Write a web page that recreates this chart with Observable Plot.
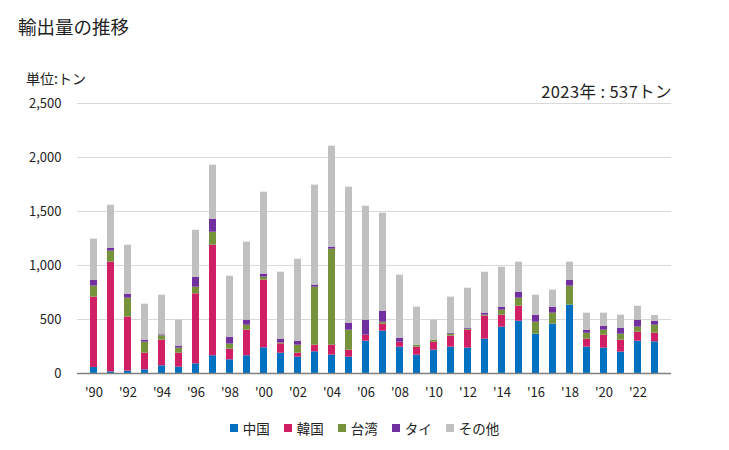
<!DOCTYPE html>
<html>
<head>
<meta charset="utf-8">
<script src="https://cdn.jsdelivr.net/npm/d3@7"></script>
<script src="https://cdn.jsdelivr.net/npm/@observablehq/plot@0.6"></script>
<style>
  body { margin: 0; background: #fff; font-family: "Noto Sans CJK JP", "Noto Sans", sans-serif; color: #222; }
  #wrap { position: relative; width: 729px; height: 450px; overflow: hidden; }
  #chart { position: absolute; left: 0; top: 0; }
  .t { position: absolute; white-space: nowrap; line-height: 1; }
  #legend { position: absolute; top: 418px; left: 0; width: 729px; display: flex; justify-content: center; font-size: 13.5px; }
  .li { display: flex; align-items: center; margin: 0 7px; }
  .sw { width: 8px; height: 8px; margin-right: 5px; }
</style>
</head>
<body>
<div id="wrap">
  <div id="chart"></div>
  <div class="t" style="left:18px; top:17px; font-size:18.5px;">輸出量の推移</div>
  <div class="t" style="left:26px; top:71px; font-size:14px;">単位:トン</div>
  <div class="t" style="right:57px; top:83px; font-size:16.5px; letter-spacing:0.4px;">2023年 : 537トン</div>
  <div id="legend"></div>
</div>
<script>
const years = d3.range(1990, 2024);
const seriesNames = ["中国", "韓国", "台湾", "タイ", "その他"];
const seriesColors = ["#0070c0", "#d01f64", "#76933c", "#7030a0", "#c0c0c0"];
const china  = [56,15,22,34,71,59,89,164,127,164,238,188,151,201,170,151,299,392,244,170,216,244,235,318,429,484,364,457,633,244,235,198,299,293];
const korea  = [651,1016,500,154,238,129,649,1024,98,237,626,87,37,61,92,65,56,65,46,74,74,102,166,213,111,139,0,0,0,74,120,111,84,80];
const taiwan = [102,102,175,102,40,47,61,120,47,46,28,9,74,537,889,185,0,18,0,18,19,18,9,9,46,74,111,102,176,55,46,55,46,74];
const thai   = [55,27,37,19,9,18,93,121,64,47,28,34,37,19,19,65,139,102,37,0,0,9,10,19,28,56,65,55,55,28,37,56,65,37];
const other  = [380,398,454,333,367,241,435,500,565,722,759,620,759,926,935,1259,1055,907,583,352,185,334,370,379,370,278,185,158,167,158,121,120,129,53];
const yTicks = [0, 500, 1000, 1500, 2000, 2500];
const xTickYears = years.filter(y => y % 2 === 0);

const seriesValues = [china, korea, taiwan, thai, other];
const data = [];
seriesNames.forEach((name, i) => {
  years.forEach((yr, j) => data.push({year: yr, series: name, value: seriesValues[i][j]}));
});

const chart = Plot.plot({
  width: 729,
  height: 410,
  marginTop: 103,
  marginBottom: 37,
  marginLeft: 77,
  marginRight: 58,
  style: {fontFamily: '"Noto Sans CJK JP", "Noto Sans", sans-serif', fontSize: "13px", color: "#222", background: "transparent"},
  x: {type: "band", domain: years, paddingInner: 0.58, paddingOuter: 0.36, label: null,
      ticks: xTickYears, tickFormat: d => "'" + String(d).slice(2), tickSize: 0, tickPadding: 14},
  y: {domain: [0, 2500], ticks: yTicks, tickFormat: d3.format(","), label: null, tickSize: 0, tickPadding: 16},
  color: {domain: seriesNames, range: seriesColors},
  marks: [
    Plot.ruleY(yTicks.filter(d => d > 0), {stroke: "#d9d9d9", strokeWidth: 1}),
    Plot.barY(data, Plot.stackY({order: seriesNames, x: "year", y: "value", fill: "series"})),
    Plot.ruleY([0], {stroke: "#808080", strokeWidth: 1.5})
  ]
});
document.getElementById("chart").appendChild(chart);

const legend = document.getElementById("legend");
seriesNames.forEach((name, i) => {
  const item = document.createElement("div");
  item.className = "li";
  const sw = document.createElement("span");
  sw.className = "sw";
  sw.style.background = seriesColors[i];
  const tx = document.createElement("span");
  tx.textContent = name;
  item.appendChild(sw);
  item.appendChild(tx);
  legend.appendChild(item);
});
</script>
</body>
</html>
